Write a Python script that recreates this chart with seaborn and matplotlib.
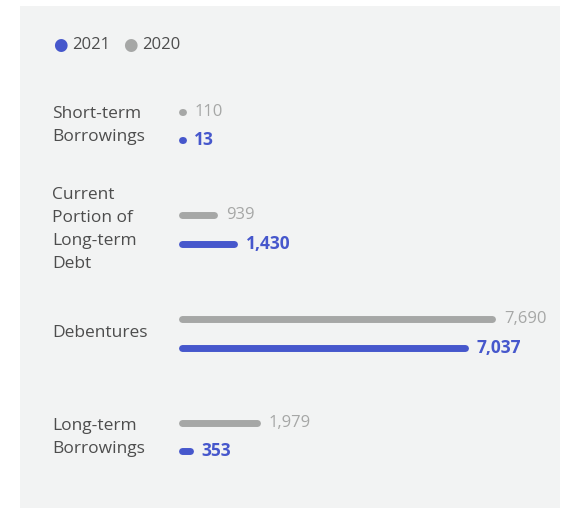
import pandas as pd
import matplotlib.pyplot as plt
import seaborn as sns
from matplotlib.patches import Rectangle
from matplotlib.transforms import blended_transform_factory, offset_copy

# Data
categories = ['Short-term\nBorrowings', 'Current\nPortion of\nLong-term\nDebt', 'Debentures', 'Long-term\nBorrowings']
years = ['2020', '2021']
values_2020 = [110, 939, 7690, 1979]
values_2021 = [13, 1430, 7037, 353]

BLUE = '#4657cc'
GRAY = '#a6a7a6'
TEXT = '#4d4d4d'
BG = '#f2f3f3'
FS = 12

df = pd.DataFrame({
    'Category': categories * 2,
    'Year': ['2020'] * 4 + ['2021'] * 4,
    'Value': values_2020 + values_2021,
})

sns.set_style('white')
plt.rcParams['font.family'] = ['Open Sans', 'DejaVu Sans']

W, H = 562, 508
fig = plt.figure(figsize=(W / 100, H / 100), dpi=100)
fig.patch.set_facecolor('white')
fig.patches.append(Rectangle((20 / W, 0), 540 / W, 1 - 6 / H, transform=fig.transFigure,
                             facecolor=BG, edgecolor='none', zorder=-5))

# 0 at x=179px, 0.0412 px per unit
PX = 0.0412
ax = fig.add_axes([179 / W, 1 - 489 / H, (540 - 179) / W, (489 - 74) / H])
ax.set_facecolor('none')

sns.barplot(data=df, x='Value', y='Category', hue='Year', hue_order=years,
            order=categories, orient='h', width=0.55, ax=ax, legend=False)
ax.set_xlim(0, (540 - 179) / PX)
ax.set_ylim(3.5, -0.5)

r = 3.5 / PX  # cap radius in data units
colors = {'2020': GRAY, '2021': BLUE}
for year, cont in zip(years, ax.containers):
    for p in cont.patches:
        p.set_visible(False)
        y = p.get_y() + p.get_height() / 2
        w = p.get_width()
        end = max(w - r, r + 1)  # tiny values shrink to a dot
        ax.plot([r, end], [y, y], color=colors[year], lw=5, solid_capstyle='round',
                clip_on=False)
        if year == '2021':
            tr = offset_copy(ax.transData, fig=fig, x=5.5, y=0, units='points')
            ax.text(end + r, y, f'{w:,.0f}', transform=tr, color=BLUE, fontsize=12.5,
                    fontweight='bold', va='center', ha='left')
        else:
            tr = offset_copy(ax.transData, fig=fig, x=6, y=0, units='points')
            ax.text(end + r, y, f'{w:,.0f}', transform=tr, color=GRAY, fontsize=FS,
                    va='center', ha='left')

# category labels on the left
lab_tr = blended_transform_factory(fig.transFigure, ax.transData)
for i, c in enumerate(categories):
    fig.text(52 / W, i, c, transform=lab_tr, ha='left', va='center', color=TEXT,
             fontsize=12.5, linespacing=1.6)

for s in ax.spines.values():
    s.set_visible(False)
ax.set_xticks([])
ax.set_yticks([])
ax.set_xlabel('')
ax.set_ylabel('')

# legend
ly = 1 - 45 / H
fig.text(60 / W, ly, '●', color=BLUE, fontsize=12, ha='center', va='center',
         family='DejaVu Sans')
fig.text(72 / W, ly, '2021', color=TEXT, fontsize=FS, ha='left', va='center')
fig.text(130 / W, ly, '●', color=GRAY, fontsize=12, ha='center', va='center',
         family='DejaVu Sans')
fig.text(142 / W, ly, '2020', color=TEXT, fontsize=FS, ha='left', va='center')

fig.savefig('out.png', dpi=100)
